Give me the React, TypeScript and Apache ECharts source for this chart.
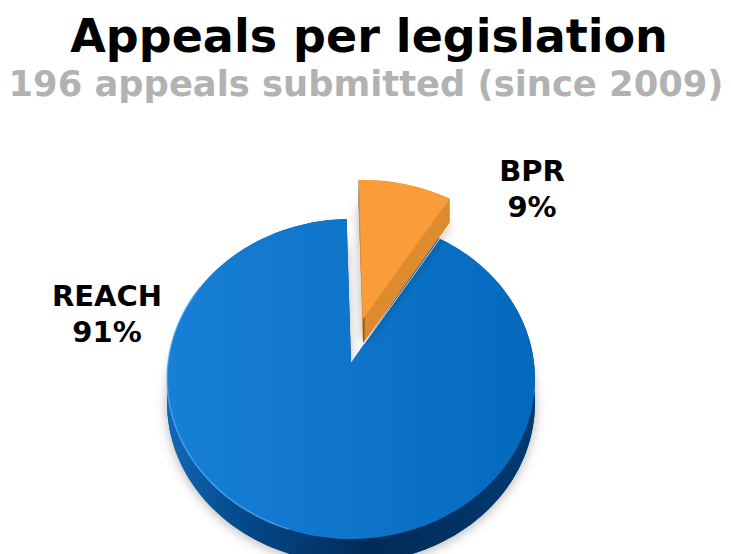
import React, { useEffect, useRef } from "react";
import * as echarts from "echarts";

const titleText = "Appeals per legislation";
const subtitleText = "196 appeals submitted (since 2009)";
const categories = ["REACH", "BPR"];
const shares = [91, 9];

const total = shares.reduce((a, b) => a + b, 0);
const FIRST_ANGLE = 30.9;
const CX = 351;
const CY = 363;
const RX = 183;
const RY = 158.4;
const PERSPECTIVE = 0.1;
const DEPTH = 24;
const lg = (stops: [number, string][]) =>
  new echarts.graphic.LinearGradient(0, 0, 1, 0, stops.map(([offset, color]) => ({ offset, color })));

const project = (deg: number, dx: number, dy: number): number[] => {
  const t = (deg * Math.PI) / 180;
  const u = Math.sin(t);
  const v = Math.cos(t);
  const k = 1 + PERSPECTIVE * v;
  return [CX + (RX * u) / k + dx, CY - (RY * v) / k + dy];
};

const arc = (from: number, to: number, dx: number, dy: number): number[][] => {
  const pts: number[][] = [];
  const steps = Math.max(8, Math.ceil((to - from) / 1.5));
  for (let i = 0; i <= steps; i++) pts.push(project(from + ((to - from) * i) / steps, dx, dy));
  return pts;
};

const looks = [
  {
    dx: 0,
    dy: 0,
    apexDy: 0,
    top: [[0, "#187fd6"], [0.5, "#0f75cb"], [1, "#0369bd"]] as [number, string][],
    side: [[0, "#1466b4"], [0.2, "#044a8c"], [0.55, "#002b57"], [1, "#013a70"]] as [number, string][],
    labelX: 107,
    labelY: 314,
  },
  {
    dx: 12,
    dy: -39,
    apexDy: -44,
    top: [[0, "#fb9c3c"], [1, "#fb9c3a"]] as [number, string][],
    side: [[0, "#6d5230"], [0.03, "#dd8a30"], [1, "#df8a2e"]] as [number, string][],
    labelX: 532,
    labelY: 189,
  },
];

const renderSlice = (params: any, api: any) => {
  const i = params.dataIndex;
  const before = shares.slice(0, i).reduce((a, b) => a + b, 0);
  const from = FIRST_ANGLE + (before / total) * 360;
  const to = from + (api.value(0) / total) * 360;
  const look = looks[i];
  const apex = [CX + look.dx, CY + look.apexDy];
  const apexLow = [apex[0], apex[1] + DEPTH];
  const upper = arc(from, to, look.dx, look.dy);
  const lower = arc(from, to, look.dx, look.dy + DEPTH);
  const sideFill = lg(look.side);
  const sidePart = (points: number[][], extra: any = {}) => ({
    type: "polygon",
    shape: { points },
    style: { fill: sideFill, ...extra },
  });
  const first = upper[0];
  const last = upper[upper.length - 1];
  const firstLow = lower[0];
  const lastLow = lower[lower.length - 1];
  const children: any[] = [
    sidePart([apexLow, ...lower], {
      shadowBlur: 12,
      shadowColor: "rgba(0,0,0,0.3)",
      shadowOffsetY: 2,
    }),
    sidePart([...upper, ...[...lower].reverse()]),
    sidePart([apex, first, firstLow, apexLow]),
    sidePart([apex, last, lastLow, apexLow]),
    {
      type: "polygon",
      shape: { points: [apex, ...upper] },
      style: { fill: lg(look.top) },
    },
  ];
  if (i === 0) {
    children.push({
      type: "polyline",
      shape: { points: arc(198, 300, 0, -0.5) },
      style: { fill: "none", stroke: "rgba(90,180,250,0.65)", lineWidth: 1.5 },
    });
  } else {
    children.push({
      type: "polyline",
      shape: { points: [[apexLow[0] + 1, apexLow[1] + 1], [lastLow[0] + 1, lastLow[1] + 1]] },
      style: { fill: "none", stroke: "#fdf3e6", lineWidth: 0.8 },
    });
  }
  children.push({
    type: "text",
    x: look.labelX,
    y: look.labelY,
    style: {
      text: `${categories[i]}\n${api.value(0)}%`,
      fill: "#000000",
      font: "bold 29px 'DejaVu Sans'",
      lineHeight: 36,
      align: "center",
      verticalAlign: "middle",
    },
  });
  return { type: "group", children };
};

export default function App() {
  const ref = useRef<HTMLDivElement>(null);
  useEffect(() => {
    document.body.style.margin = "0";
    const chart = echarts.init(ref.current!, undefined, { renderer: "svg" });
    chart.setOption({
      animation: false,
      backgroundColor: "#ffffff",
      title: [
        {
          text: titleText,
          left: 364,
          textAlign: "center",
          top: 8,
          textStyle: { fontFamily: "DejaVu Sans", fontWeight: "bold", fontSize: 46, color: "#000000" },
        },
        {
          text: subtitleText,
          left: 361,
          textAlign: "center",
          top: 61,
          textStyle: { fontFamily: "DejaVu Sans", fontWeight: "bold", fontSize: 35.3, color: "#b2b2b2" },
        },
      ],
      series: [
        {
          type: "custom",
          coordinateSystem: "none",
          clip: false,
          silent: true,
          renderItem: renderSlice,
          data: categories.map((name, i) => ({ name, value: [shares[i]] })),
        },
      ],
    });
    return () => chart.dispose();
  }, []);
  return <div ref={ref} style={{ position: "absolute", left: 0, top: 0, width: 731, height: 554, overflow: "hidden" }} />;
}
